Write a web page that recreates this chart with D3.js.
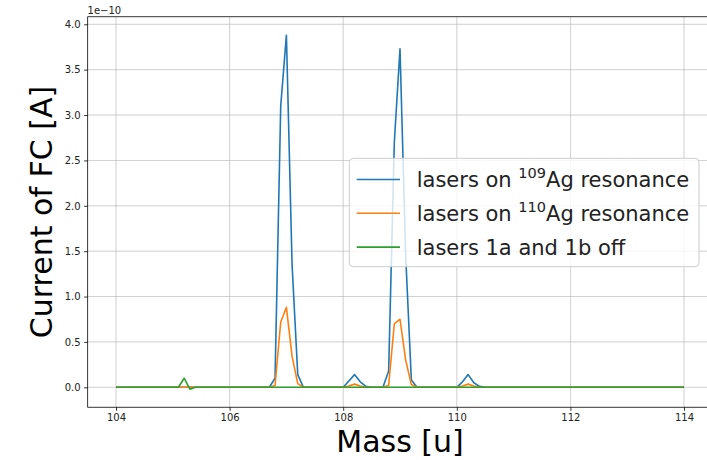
<!DOCTYPE html>
<html><head><meta charset="utf-8">
<script src="https://cdn.jsdelivr.net/npm/d3@7"></script>
<style>
html,body{margin:0;padding:0;background:#fff;}
svg{display:block;font-family:"DejaVu Sans",sans-serif;}
</style></head>
<body><svg id="c" width="707" height="460"></svg>
<script>
// ---- data (values in units of 1e-10 A) ----
const mass = [104.0,104.1,104.2,104.3,104.4,104.5,104.6,104.7,104.8,104.9,
105.0,105.1,105.2,105.3,105.4,105.5,105.6,105.7,105.8,105.9,
106.0,106.1,106.2,106.3,106.4,106.5,106.6,106.7,106.8,106.9,
107.0,107.1,107.2,107.3,107.4,107.5,107.6,107.7,107.8,107.9,
108.0,108.1,108.2,108.3,108.4,108.5,108.6,108.7,108.8,108.9,
109.0,109.1,109.2,109.3,109.4,109.5,109.6,109.7,109.8,109.9,
110.0,110.1,110.2,110.3,110.4,110.5,110.6,110.7,110.8,110.9,
111.0,111.1,111.2,111.3,111.4,111.5,111.6,111.7,111.8,111.9,
112.0,112.1,112.2,112.3,112.4,112.5,112.6,112.7,112.8,112.9,
113.0,113.1,113.2,113.3,113.4,113.5,113.6,113.7,113.8,113.9,114.0];
const ag109 = [0,0,0,0,0,0,0,0,0,0,
0,0,0,0,0,0,0,0,0,0,
0,0,0,0,0,0,0,0,0.10,3.10,
3.88,1.35,0.14,0,0,0,0,0,0,0,
0,0.07,0.14,0.06,0.01,0,0,0,0.18,2.70,
3.73,1.45,0.08,0,0,0,0,0,0,0,
0,0.06,0.14,0.05,0.01,0,0,0,0,0,
0,0,0,0,0,0,0,0,0,0,
0,0,0,0,0,0,0,0,0,0,
0,0,0,0,0,0,0,0,0,0,0];
const ag110 = [0,0,0,0,0,0,0,0,0,0,
0,0,0,0,0,0,0,0,0,0,
0,0,0,0,0,0,0,0,0.02,0.72,
0.88,0.34,0.04,0,0,0,0,0,0,0,
0,0.015,0.035,0.015,0,0,0,0,0.02,0.70,
0.75,0.30,0.03,0,0,0,0,0,0,0,
0,0.015,0.035,0.015,0,0,0,0,0,0,
0,0,0,0,0,0,0,0,0,0,
0,0,0,0,0,0,0,0,0,0,
0,0,0,0,0,0,0,0,0,0,0];
const lasersOff = [0,0,0,0,0,0,0,0,0,0,
0,0,0.10,-0.02,0,0,0,0,0,0,
0,0,0,0,0,0,0,0,0,0,
0,0,0,0,0,0,0,0,0,0,
0,0,0,0,0,0,0,0,0,0,
0,0,0,0,0,0,0,0,0,0,
0,0,0,0,0,0,0,0,0,0,
0,0,0,0,0,0,0,0,0,0,
0,0,0,0,0,0,0,0,0,0,
0,0,0,0,0,0,0,0,0,0,0];
const xTicks = [104,106,108,110,112,114];
const yTicks = [0.0,0.5,1.0,1.5,2.0,2.5,3.0,3.5,4.0];
const seriesNames = [["lasers on ","109","Ag resonance"],["lasers on ","110","Ag resonance"],["lasers 1a and 1b off","",""]];
const colors = ["#1f77b4","#ff7f0e","#2ca02c"];

// ---- layout ----
const svg = d3.select("#c");
const L = 87.6, R = 712.4, T = 16.7, B = 407.3;
const x = d3.scaleLinear().domain([103.5,114.5]).range([L,R]);
const y = d3.scaleLinear().domain([-0.2204,4.0837]).range([B,T]);

// grid
const g = svg.append("g");
g.selectAll("line.gx").data(xTicks).join("line")
  .attr("x1",d=>x(d)).attr("x2",d=>x(d)).attr("y1",T).attr("y2",B)
  .attr("stroke","#b0b0b0").attr("stroke-width",0.8).attr("opacity",0.75);
g.selectAll("line.gy").data(yTicks).join("line")
  .attr("x1",L).attr("x2",R).attr("y1",d=>y(d)).attr("y2",d=>y(d))
  .attr("stroke","#b0b0b0").attr("stroke-width",0.8).attr("opacity",0.75);

// axes
const xAxis = d3.axisBottom(x).tickValues(xTicks).tickFormat(d3.format("d")).tickSize(3.5).tickPadding(3.5);
const yAxis = d3.axisLeft(y).tickValues(yTicks).tickFormat(d3.format(".1f")).tickSize(3.5).tickPadding(3.5);
const ax = svg.append("g").attr("transform",`translate(0,${B})`).call(xAxis);
const ay = svg.append("g").attr("transform",`translate(${L},0)`).call(yAxis);
[ax,ay].forEach(a=>{
  a.select(".domain").remove();
  a.selectAll("line").attr("stroke","#000").attr("stroke-width",0.8);
  a.selectAll("text").attr("font-size",10).attr("fill","#222").attr("font-family","DejaVu Sans");
});

// lines
const line = d3.line().x((d,i)=>x(mass[i])).y(d=>y(d));
const clip = svg.append("clipPath").attr("id","cp").append("rect")
  .attr("x",L).attr("y",T).attr("width",R-L).attr("height",B-T);
const lg = svg.append("g").attr("clip-path","url(#cp)");
[ag109,ag110,lasersOff].forEach((s,k)=>{
  lg.append("path").datum(s).attr("d",line).attr("fill","none")
    .attr("stroke",colors[k]).attr("stroke-width",1.6).attr("stroke-linejoin","round");
});

// spines
svg.append("line").attr("x1",L).attr("x2",L).attr("y1",T).attr("y2",B).attr("stroke","#000").attr("stroke-width",0.8);
svg.append("line").attr("x1",L).attr("x2",R).attr("y1",B).attr("y2",B).attr("stroke","#000").attr("stroke-width",0.8);
svg.append("line").attr("x1",L).attr("x2",R).attr("y1",T).attr("y2",T).attr("stroke","#000").attr("stroke-width",0.8);

// offset text
svg.append("text").attr("x",L).attr("y",14).attr("font-size",10).attr("fill","#222").text("1e\u221210");

// axis labels
svg.append("text").attr("x",(L+R)/2).attr("y",452).attr("text-anchor","middle")
  .attr("font-size",30).attr("fill","#000").text("Mass [u]");
svg.append("text").attr("transform","translate(52,212) rotate(-90)").attr("text-anchor","middle")
  .attr("font-size",30).attr("fill","#000").text("Current of FC [A]");

// legend
const leg = svg.append("g");
leg.append("rect").attr("x",349.3).attr("y",158.3).attr("width",349.7).attr("height",108.4)
  .attr("rx",4).attr("fill","#fff").attr("fill-opacity",0.8).attr("stroke","#cccccc").attr("stroke-width",1);
seriesNames.forEach((nm,k)=>{
  const cy = 179.5 + k*33.8;
  leg.append("line").attr("x1",356.7).attr("x2",400).attr("y1",cy).attr("y2",cy)
    .attr("stroke",colors[k]).attr("stroke-width",1.6);
  const t = leg.append("text").attr("x",416.7).attr("y",cy+7.5).attr("font-size",21).attr("fill","#222");
  t.append("tspan").text(nm[0]);
  if(nm[1]){
    t.append("tspan").attr("font-size",14.5).attr("dy",-9).text(nm[1]);
    t.append("tspan").attr("dy",9).text(nm[2]);
  }
});
</script></body></html>
